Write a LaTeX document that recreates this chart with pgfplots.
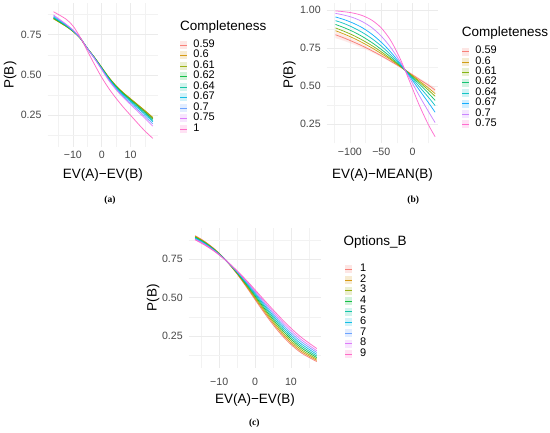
\documentclass[border=0pt]{standalone}
\usepackage{fontspec}
\setmainfont{Liberation Sans}
\newfontfamily\capfont{Liberation Serif}
\usepackage{pgfplots}
\pgfplotsset{compat=1.18}
\definecolor{h1}{HTML}{F8766D}\definecolor{h2}{HTML}{D39200}\definecolor{h3}{HTML}{93AA00}
\definecolor{h4}{HTML}{00BA38}\definecolor{h5}{HTML}{00C19F}\definecolor{h6}{HTML}{00B9E3}
\definecolor{h7}{HTML}{619CFF}\definecolor{h8}{HTML}{DB72FB}\definecolor{h9}{HTML}{FF61C3}
\definecolor{e1}{HTML}{F8766D}\definecolor{e2}{HTML}{CD9600}\definecolor{e3}{HTML}{7CAE00}
\definecolor{e4}{HTML}{00BE67}\definecolor{e5}{HTML}{00BFC4}\definecolor{e6}{HTML}{00A9FF}
\definecolor{e7}{HTML}{C77CFF}\definecolor{e8}{HTML}{FF61CC}
\newcommand\tickfont{\fontsize{10.6}{12}\selectfont}
\newcommand\legfont{\fontsize{11}{12}\selectfont}
\newcommand\titlefont{\fontsize{13.5}{16}\selectfont}
\pgfplotsset{
 gg/.style={
  scale only axis, anchor=north west,
  axis line style={draw=none},
  major tick length=0pt, minor tick length=0pt,
  tick style={draw=none},
  xmajorgrids, ymajorgrids, xminorgrids, yminorgrids,
  major grid style={line width=0.6pt, draw=black!8},
  minor grid style={line width=0.3pt, draw=black!5},
  ticklabel style={font=\tickfont, text=black!72},
  yticklabel style={xshift=-2.5pt},
  /pgf/number format/assume math mode=true,
  legend cell align=left,
  legend style={draw=none, fill=none, inner sep=0pt, outer sep=0pt, row sep=0pt,
    font=\legfont, text=black, anchor=north west},
  legend image code/.code={\fill[#1,draw=none,opacity=0.18] (0pt,-4pt) rectangle (7pt,4pt);
     \draw[#1] (0pt,0pt) -- (7pt,0pt); \path (12.7pt,0pt);},
  every axis plot/.append style={line width=0.75pt, opacity=0.9},
 },
 cv/.style={color=#1, smooth, no markers},
}
\begin{document}
\begin{tikzpicture}
\path[use as bounding box, fill=white] (0pt,0pt) rectangle (550pt,-432pt);
% ---------------- panel (a)
\begin{axis}[gg, at={(47.5pt,-3.3pt)}, width=110.8pt, height=143.4pt,
  xmin=-18.8, xmax=19.6, ymin=0.0555, ymax=0.9445,
  xtick={-10,0,10}, xticklabels={−10,0,10}, minor xtick={-15,-5,5,15},
  ytick={0.25,0.5,0.75}, yticklabels={0.25,0.50,0.75}, minor ytick={0.125,0.375,0.625,0.875},
  xticklabel style={yshift=-1pt},
  legend style={at={(1.1959,0.7465)}, nodes={font=\legfont, inner sep=0pt, text height=7.4pt, text depth=3.1pt}}]
\addplot[cv=h1] coordinates {(-16.7,0.852)(-12.5,0.805)(-10,0.772)(-7.5,0.729)(-5,0.666)(-2.5,0.608)(0,0.545)(2.5,0.482)(5,0.429)(7.5,0.386)(10,0.348)(12.5,0.310)(15,0.272)(17.7,0.229)};
\addlegendentry{0.59}
\addplot[cv=h2] coordinates {(-16.7,0.848)(-12.5,0.803)(-10,0.770)(-7.5,0.728)(-5,0.666)(-2.5,0.609)(0,0.547)(2.5,0.485)(5,0.433)(7.5,0.390)(10,0.353)(12.5,0.316)(15,0.279)(17.7,0.237)};
\addlegendentry{0.6}
\addplot[cv=h3] coordinates {(-16.7,0.849)(-12.5,0.803)(-10,0.771)(-7.5,0.729)(-5,0.666)(-2.5,0.609)(0,0.546)(2.5,0.484)(5,0.431)(7.5,0.389)(10,0.351)(12.5,0.314)(15,0.277)(17.7,0.234)};
\addlegendentry{0.61}
\addplot[cv=h4] coordinates {(-16.7,0.853)(-12.5,0.806)(-10,0.772)(-7.5,0.729)(-5,0.666)(-2.5,0.607)(0,0.544)(2.5,0.481)(5,0.428)(7.5,0.384)(10,0.346)(12.5,0.308)(15,0.269)(17.7,0.226)};
\addlegendentry{0.62}
\addplot[cv=h5] coordinates {(-16.7,0.856)(-12.5,0.808)(-10,0.774)(-7.5,0.730)(-5,0.665)(-2.5,0.606)(0,0.542)(2.5,0.478)(5,0.424)(7.5,0.380)(10,0.341)(12.5,0.301)(15,0.262)(17.7,0.218)};
\addlegendentry{0.64}
\addplot[cv=h6] coordinates {(-16.7,0.860)(-12.5,0.810)(-10,0.775)(-7.5,0.730)(-5,0.665)(-2.5,0.605)(0,0.540)(2.5,0.475)(5,0.420)(7.5,0.375)(10,0.335)(12.5,0.295)(15,0.255)(17.7,0.210)};
\addlegendentry{0.67}
\addplot[cv=h7] coordinates {(-16.7,0.866)(-12.5,0.814)(-10,0.777)(-7.5,0.731)(-5,0.664)(-2.5,0.603)(0,0.537)(2.5,0.470)(5,0.414)(7.5,0.367)(10,0.326)(12.5,0.284)(15,0.243)(17.7,0.197)};
\addlegendentry{0.7}
\addplot[cv=h8] coordinates {(-16.7,0.872)(-12.5,0.817)(-10,0.780)(-7.5,0.732)(-5,0.664)(-2.5,0.601)(0,0.533)(2.5,0.465)(5,0.408)(7.5,0.360)(10,0.317)(12.5,0.274)(15,0.231)(17.7,0.183)};
\addlegendentry{0.75}
\addplot[cv=h9] coordinates {(-16.7,0.892)(-12.5,0.848)(-10,0.805)(-7.5,0.735)(-5,0.650)(-2.5,0.565)(0,0.485)(2.5,0.415)(5,0.355)(7.5,0.300)(10,0.250)(12.5,0.200)(15,0.152)(17.7,0.107)};
\addlegendentry{1}
\end{axis}
% ---------------- panel (b)
\begin{axis}[gg, at={(326.7pt,-3pt)}, width=111.6pt, height=140.3pt,
  xmin=-137, xmax=41, ymin=0.123, ymax=1.046,
  xtick={-100,-50,0}, xticklabels={−100,−50,0}, minor xtick={-125,-75,-25,25},
  ytick={0.25,0.5,0.75,1}, yticklabels={0.25,0.50,0.75,1.00}, minor ytick={0.375,0.625,0.875},
  xticklabel style={yshift=-1pt},
  legend style={at={(1.2124,0.6910)}, nodes={font=\legfont, inner sep=0pt, text height=7.4pt, text depth=3.0pt}}]
\addplot[color=e1, fill=e1, draw=none, fill opacity=0.15, forget plot] coordinates {(-123,0.859)(-110,0.836)(-95,0.807)(-80,0.776)(-65,0.742)(-50,0.707)(-35,0.669)(-20,0.631)(-5,0.592)(10,0.553)(25,0.517)(36,0.488)(36,0.458)(25,0.495)(10,0.539)(-5,0.582)(-20,0.621)(-35,0.657)(-50,0.691)(-65,0.722)(-80,0.750)(-95,0.775)(-110,0.798)(-123,0.815)} -- cycle;
\addplot[cv=e1] coordinates {(-123,0.837)(-110,0.817)(-95,0.791)(-80,0.763)(-65,0.732)(-50,0.699)(-35,0.663)(-20,0.626)(-5,0.587)(10,0.546)(25,0.506)(36,0.473)};
\addlegendentry{0.59}
\addplot[cv=e2] coordinates {(-123,0.864)(-110,0.843)(-95,0.816)(-80,0.785)(-65,0.751)(-50,0.713)(-35,0.673)(-20,0.629)(-5,0.583)(10,0.536)(25,0.488)(36,0.450)};
\addlegendentry{0.6}
\addplot[cv=e3] coordinates {(-123,0.882)(-110,0.861)(-95,0.834)(-80,0.802)(-65,0.766)(-50,0.725)(-35,0.680)(-20,0.632)(-5,0.581)(10,0.528)(25,0.474)(36,0.432)};
\addlegendentry{0.61}
\addplot[cv=e4] coordinates {(-123,0.905)(-110,0.885)(-95,0.858)(-80,0.825)(-65,0.786)(-50,0.741)(-35,0.691)(-20,0.636)(-5,0.577)(10,0.516)(25,0.454)(36,0.405)};
\addlegendentry{0.62}
\addplot[cv=e5] coordinates {(-123,0.930)(-110,0.912)(-95,0.885)(-80,0.852)(-65,0.812)(-50,0.763)(-35,0.706)(-20,0.642)(-5,0.572)(10,0.499)(25,0.427)(36,0.371)};
\addlegendentry{0.64}
\addplot[cv=e6] coordinates {(-123,0.954)(-110,0.938)(-95,0.914)(-80,0.883)(-65,0.841)(-50,0.788)(-35,0.724)(-20,0.649)(-5,0.565)(10,0.478)(25,0.392)(36,0.327)};
\addlegendentry{0.67}
\addplot[cv=e7] coordinates {(-123,0.978)(-110,0.967)(-95,0.950)(-80,0.923)(-65,0.884)(-50,0.828)(-35,0.754)(-20,0.661)(-5,0.554)(10,0.441)(25,0.334)(36,0.259)};
\addlegendentry{0.7}
\addplot[cv=e8] coordinates {(-123,0.994)(-110,0.989)(-95,0.980)(-80,0.963)(-65,0.933)(-50,0.882)(-35,0.800)(-20,0.681)(-5,0.533)(10,0.380)(25,0.247)(36,0.166)};
\addlegendentry{0.75}
\end{axis}
% ---------------- panel (c)
\begin{axis}[gg, at={(188.7pt,-227.7pt)}, width=132.7pt, height=140pt,
  xmin=-18.5, xmax=18.5, ymin=0.043, ymax=0.956,
  xtick={-10,0,10}, xticklabels={−10,0,10}, minor xtick={-15,-5,5,15},
  ytick={0.25,0.5,0.75}, yticklabels={0.25,0.50,0.75}, minor ytick={0.125,0.375,0.625,0.875},
  xticklabel style={yshift=-6.5pt},
  legend style={at={(1.1778,0.7404)}, nodes={font=\legfont, inner sep=0pt, text height=7.4pt, text depth=3.2pt}},
  legend image code/.code={\fill[#1,draw=none,opacity=0.18] (0pt,-4pt) rectangle (7pt,4pt);
     \draw[#1] (0pt,0pt) -- (7pt,0pt); \path (14.5pt,0pt);}]
\addplot[cv=h1] coordinates {(-16.7,0.904)(-14,0.866)(-11,0.811)(-8,0.740)(-5,0.654)(-2,0.556)(1,0.453)(4,0.355)(7,0.267)(10,0.195)(13,0.138)(17.2,0.083)};
\addlegendentry{1}
\addplot[cv=h2] coordinates {(-16.7,0.901)(-14,0.863)(-11,0.809)(-8,0.740)(-5,0.656)(-2,0.562)(1,0.462)(4,0.366)(7,0.279)(10,0.206)(13,0.148)(17.2,0.091)};
\addlegendentry{2}
\addplot[cv=h3] coordinates {(-16.7,0.897)(-14,0.861)(-11,0.807)(-8,0.740)(-5,0.659)(-2,0.568)(1,0.471)(4,0.377)(7,0.291)(10,0.218)(13,0.159)(17.2,0.099)};
\addlegendentry{3}
\addplot[cv=h4] coordinates {(-16.7,0.894)(-14,0.858)(-11,0.806)(-8,0.740)(-5,0.662)(-2,0.574)(1,0.480)(4,0.388)(7,0.304)(10,0.231)(13,0.171)(17.2,0.109)};
\addlegendentry{4}
\addplot[cv=h5] coordinates {(-16.7,0.891)(-14,0.855)(-11,0.804)(-8,0.740)(-5,0.664)(-2,0.579)(1,0.489)(4,0.400)(7,0.317)(10,0.244)(13,0.183)(17.2,0.119)};
\addlegendentry{5}
\addplot[cv=h6] coordinates {(-16.7,0.887)(-14,0.852)(-11,0.802)(-8,0.740)(-5,0.667)(-2,0.585)(1,0.498)(4,0.411)(7,0.330)(10,0.257)(13,0.196)(17.2,0.130)};
\addlegendentry{6}
\addplot[cv=h7] coordinates {(-16.7,0.884)(-14,0.849)(-11,0.800)(-8,0.740)(-5,0.670)(-2,0.591)(1,0.507)(4,0.423)(7,0.343)(10,0.271)(13,0.210)(17.2,0.142)};
\addlegendentry{7}
\addplot[cv=h8] coordinates {(-16.7,0.880)(-14,0.846)(-11,0.798)(-8,0.740)(-5,0.672)(-2,0.597)(1,0.516)(4,0.435)(7,0.357)(10,0.286)(13,0.224)(17.2,0.154)};
\addlegendentry{8}
\addplot[cv=h9] coordinates {(-16.7,0.877)(-14,0.842)(-11,0.796)(-8,0.740)(-5,0.675)(-2,0.603)(1,0.525)(4,0.447)(7,0.371)(10,0.301)(13,0.239)(17.2,0.168)};
\addlegendentry{9}
\end{axis}
% ---------------- titles
\node[font=\titlefont, anchor=base, inner sep=0pt] at (102.9pt,-178.15pt) {EV(A)−EV(B)};
\node[font=\titlefont, anchor=base, inner sep=0pt, rotate=90] at (13.55pt,-75pt) {P(B)};
\node[font=\titlefont, anchor=base west, inner sep=0pt] at (180pt,-30.85pt) {Completeness};
\node[font=\titlefont, anchor=base, inner sep=0pt] at (382.5pt,-178.15pt) {EV(A)−MEAN(B)};
\node[font=\titlefont, anchor=base, inner sep=0pt, rotate=90] at (292.85pt,-75pt) {P(B)};
\node[font=\titlefont, anchor=base west, inner sep=0pt] at (461.7pt,-36.55pt) {Completeness};
\node[font=\titlefont, anchor=base, inner sep=0pt] at (255pt,-403.55pt) {EV(A)−EV(B)};
\node[font=\titlefont, anchor=base, inner sep=0pt, rotate=90] at (156.55pt,-297.7pt) {P(B)};
\node[font=\titlefont, anchor=base west, inner sep=0pt] at (343.3pt,-245.85pt) {Options\_B};
% ---------------- captions
\node[font=\capfont\bfseries\fontsize{9.5}{10}\selectfont, inner sep=0pt] at (110pt,-200.5pt) {(a)};
\node[font=\capfont\bfseries\fontsize{9.5}{10}\selectfont, inner sep=0pt] at (413.3pt,-200.5pt) {(b)};
\node[font=\capfont\bfseries\fontsize{9.5}{10}\selectfont, inner sep=0pt] at (254.3pt,-423pt) {(c)};
\end{tikzpicture}
\end{document}
